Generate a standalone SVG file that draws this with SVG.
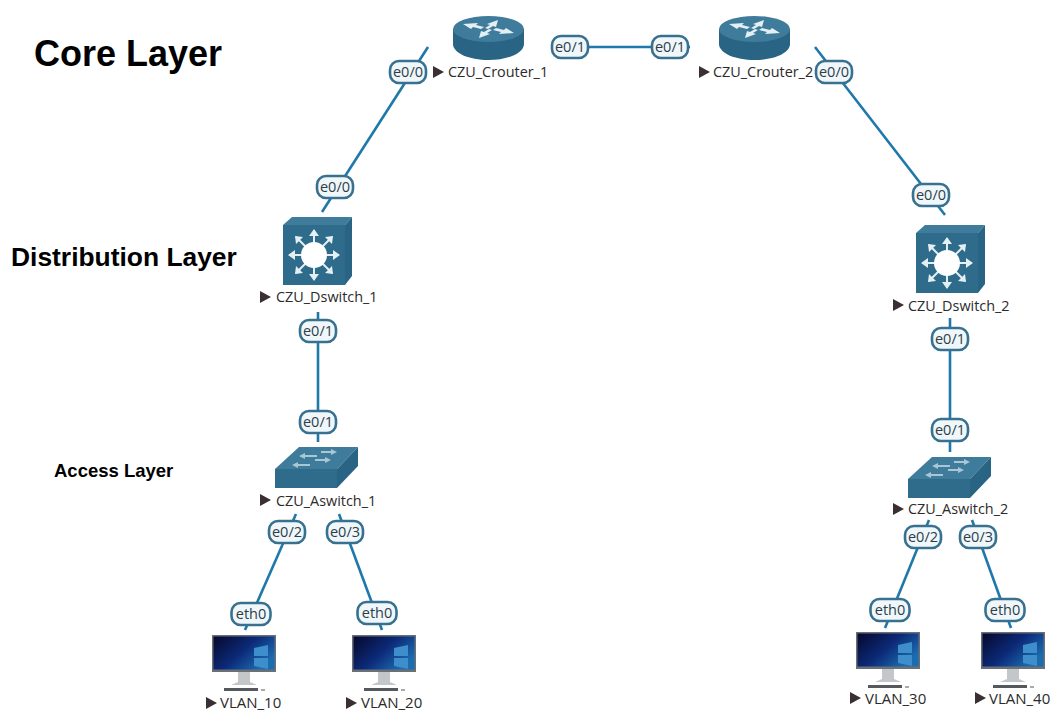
<svg xmlns="http://www.w3.org/2000/svg" width="1054" height="711" viewBox="0 0 1054 711">
<style>
.t{font-family:"Liberation Sans",Arial,sans-serif;font-weight:bold;fill:#000}
.n{font-family:"Open Sans","Noto Sans",sans-serif;font-size:14.4px;fill:#2b2b2b}
.v{font-family:"Open Sans","Noto Sans",sans-serif;font-size:15px;fill:#2b2b2b}
.p{font-family:"Open Sans","Noto Sans",sans-serif;font-size:14.5px;fill:#2c3e48;text-anchor:middle}
.l{stroke:#1f78aa;stroke-width:2.6;fill:none}
.pill{fill:#f0f7fb;stroke:#38708f;stroke-width:2.6}
.tri{fill:#3a2f33}
.d{fill:#2f6b8b}.m{fill:#3f7c9b}.s{fill:#2a6484}.w{fill:#e4eff4}
</style>
<defs>
<linearGradient id="sc" x1="0" y1="0" x2="1" y2="0.6"><stop offset="0" stop-color="#06082c"/><stop offset="0.55" stop-color="#0c2a78"/><stop offset="1" stop-color="#1c6cb0"/></linearGradient>
<g id="pill"><rect class="pill" x="-18" y="-11" width="36" height="22" rx="9"/></g>
<g id="pille"><rect class="pill" x="-19.500" y="-11" width="39" height="22" rx="9"/></g>
<g id="router">
<path class="s" d="M0 29V44C0 53 16 60 35.500 60S71 53 71 44V29Z"/>
<ellipse class="m" cx="35.500" cy="29" rx="35.500" ry="13"/>
<g class="w"><path d="M10 24l15-1-2 2 8 2-3 2-8-2-2 2zM61 33l-15 1 2-2-8-2 3-2 8 2 2-2zM45 20l-2 7-3-1-5 3-3-1 5-3-3-1zM26 38l2-7 3 1 5-3 3 1-5 3 3 1z"/></g>
</g>
<g id="dswitch">
<path class="m" d="M0 8L9 0H69L62 8Z"/><path class="s" d="M62 8L69 0V59L62 68Z"/>
<rect class="d" x="0" y="8" width="62" height="60"/>
<g stroke="#e4eff4" stroke-width="2" fill="none"><path d="M31 13V63M6 38H56M13 20L49 56M49 20L13 56"/></g>
<circle fill="#fff" cx="31" cy="38" r="13"/>
<g class="w"><path d="M31 12l-5 7h10zM31 64l-5-7h10zM5 38l7-5v10zM57 38l-7-5v10zM12 19l8 1-7 7zM50 19l-8 1 7 7zM12 57l8-1-7-7zM50 57l-8-1 7-7z"/></g>
</g>
<g id="aswitch">
<path class="m" d="M0 24L24 2H83L62 24Z"/><path class="s" d="M62 24L83 2V21L62 43Z"/>
<rect class="d" x="0" y="24" width="62" height="19"/>
<g fill="#a9c6d4"><path d="M24 11l6-3v2h12v2H30v2zM62 7l-6 3V8H46V6h10V4zM17 20l6-3v2h12v2H23v2zM56 15l-6 3v-2H40v-2h10v-2z"/></g>
</g>
<g id="pc">
<rect x="0" y="0" width="64" height="37" fill="#6a7076"/>
<rect x="1.500" y="1.500" width="61" height="33" fill="url(#sc)"/>
<path d="M42 13l14-3v11H42zM42 23h14v11l-14-3z" fill="#3d8ecb"/>
<path d="M26 37H38V47L45 50H19L26 47Z" fill="#c4c7ca"/>
<rect x="12" y="53" width="34" height="3" fill="#55585c"/><rect x="49" y="54" width="4" height="2" fill="#aaa"/>
</g>
<path id="tri" class="tri" d="M0 0L11 6L0 12Z"/>
</defs>

<text class="t" x="34" y="66" font-size="36">Core Layer</text>
<text class="t" x="11" y="266" font-size="26.400">Distribution Layer</text>
<text class="t" x="54" y="477" font-size="18.500">Access Layer</text>

<g id="connectors">
<path class="l" d="M428 47L322 212"/>
<path class="l" d="M552 47H690"/>
<path class="l" d="M815 47L945 215"/>
<path class="l" d="M318 312V442"/>
<path class="l" d="M950 318V452"/>
<path class="l" d="M296 514L245 630"/>
<path class="l" d="M339 514L382 630"/>
<path class="l" d="M929 520L885 628"/>
<path class="l" d="M972 520L1011 628"/>
</g>

<g id="port-labels">
<use href="#pill" x="408" y="72"/><text class="p" x="408" y="77">e0/0</text>
<use href="#pill" x="335" y="187"/><text class="p" x="335" y="192">e0/0</text>
<use href="#pill" x="570" y="47"/><text class="p" x="570" y="52">e0/1</text>
<use href="#pill" x="670" y="47"/><text class="p" x="670" y="52">e0/1</text>
<use href="#pill" x="834" y="72"/><text class="p" x="834" y="77">e0/0</text>
<use href="#pill" x="931" y="195"/><text class="p" x="931" y="200">e0/0</text>
<use href="#pill" x="318" y="331"/><text class="p" x="318" y="336">e0/1</text>
<use href="#pill" x="318" y="422"/><text class="p" x="318" y="427">e0/1</text>
<use href="#pill" x="950" y="339"/><text class="p" x="950" y="344">e0/1</text>
<use href="#pill" x="950" y="430"/><text class="p" x="950" y="435">e0/1</text>
<use href="#pill" x="287" y="532"/><text class="p" x="287" y="537">e0/2</text>
<use href="#pill" x="345" y="532"/><text class="p" x="345" y="537">e0/3</text>
<use href="#pill" x="923" y="537"/><text class="p" x="923" y="542">e0/2</text>
<use href="#pill" x="978" y="537"/><text class="p" x="978" y="542">e0/3</text>
<use href="#pille" x="251" y="614"/><text class="p" x="251" y="619">eth0</text>
<use href="#pille" x="377" y="613"/><text class="p" x="377" y="618">eth0</text>
<use href="#pille" x="890" y="610"/><text class="p" x="890" y="615">eth0</text>
<use href="#pille" x="1005" y="610"/><text class="p" x="1005" y="615">eth0</text>
</g>

<g id="CZU_Crouter_1"><use href="#router" x="453" y="0"/><use href="#tri" x="433" y="66"/><text class="n" x="448" y="77">CZU_Crouter_1</text></g>
<g id="CZU_Crouter_2"><use href="#router" x="719" y="0"/><use href="#tri" x="699" y="66"/><text class="n" x="713" y="77">CZU_Crouter_2</text></g>
<g id="CZU_Dswitch_1"><use href="#dswitch" x="283" y="217"/><use href="#tri" x="260" y="291"/><text class="n" x="276" y="302">CZU_Dswitch_1</text></g>
<g id="CZU_Dswitch_2"><use href="#dswitch" x="916" y="225"/><use href="#tri" x="893" y="299"/><text class="n" x="908" y="311">CZU_Dswitch_2</text></g>
<g id="CZU_Aswitch_1"><use href="#aswitch" x="275" y="445"/><use href="#tri" x="260" y="494"/><text class="n" x="276" y="506">CZU_Aswitch_1</text></g>
<g id="CZU_Aswitch_2"><use href="#aswitch" x="908" y="455"/><use href="#tri" x="893" y="503"/><text class="n" x="908" y="514">CZU_Aswitch_2</text></g>
<g id="VLAN_10"><use href="#pc" x="212" y="635"/><use href="#tri" x="206" y="697"/><text class="v" x="220" y="708">VLAN_10</text></g>
<g id="VLAN_20"><use href="#pc" x="352" y="635"/><use href="#tri" x="346" y="697"/><text class="v" x="361" y="708">VLAN_20</text></g>
<g id="VLAN_30"><use href="#pc" x="856" y="632"/><use href="#tri" x="850" y="692"/><text class="v" x="865" y="704">VLAN_30</text></g>
<g id="VLAN_40"><use href="#pc" x="981" y="632"/><use href="#tri" x="975" y="692"/><text class="v" x="989" y="704">VLAN_40</text></g>
</svg>
